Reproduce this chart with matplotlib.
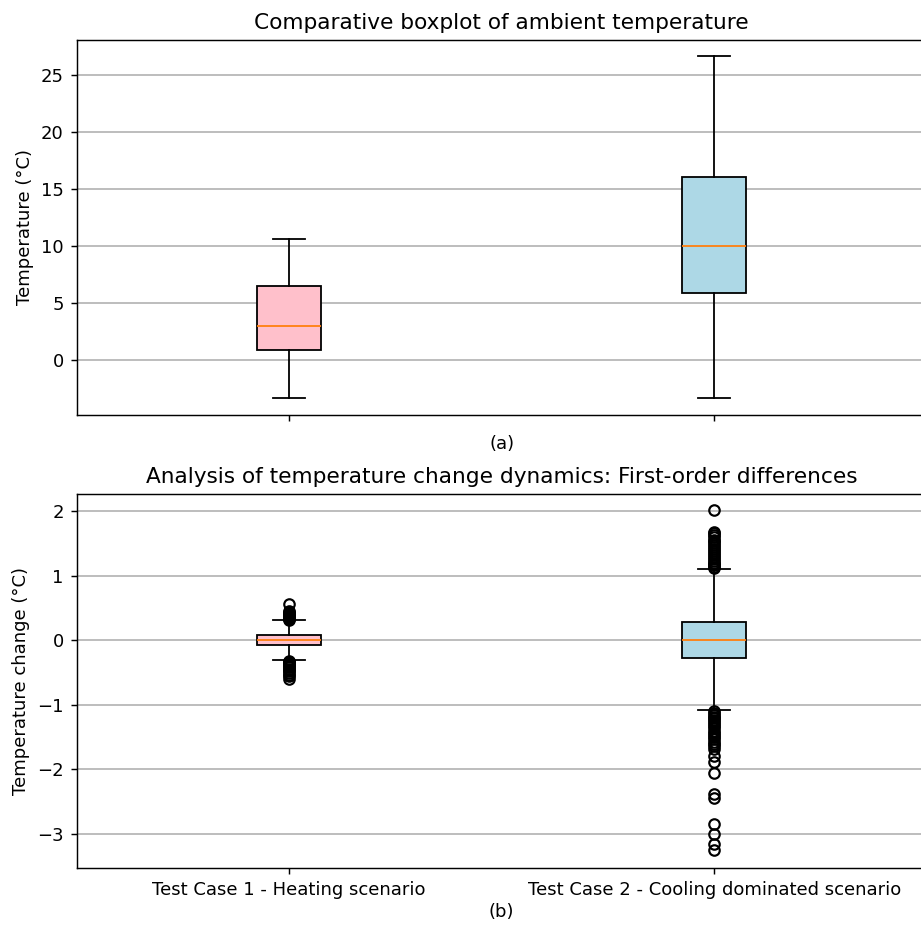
import matplotlib
matplotlib.use("Agg")
import matplotlib.pyplot as plt

# ---------------- data ----------------
categories = ["Test Case 1 - Heating scenario", "Test Case 2 - Cooling dominated scenario"]

# (a) ambient temperature box statistics
amb_whislo = [-3.35, -3.35]
amb_q1 = [0.85, 5.87]
amb_med = [2.97, 9.95]
amb_q3 = [6.43, 16.1]
amb_whishi = [10.62, 26.7]

# (b) first-order differences box statistics
diff_whislo = [-0.31, -1.08]
diff_q1 = [-0.08, -0.27]
diff_med = [0.0, 0.0]
diff_q3 = [0.08, 0.29]
diff_whishi = [0.31, 1.11]

diff_fliers_case1 = [0.32, 0.33, 0.34, 0.35, 0.36, 0.37, 0.38, 0.39, 0.40, 0.41,
                     0.42, 0.44, 0.46, 0.56,
                     -0.32, -0.33, -0.34, -0.35, -0.36, -0.37, -0.38, -0.40,
                     -0.42, -0.44, -0.46, -0.48, -0.50, -0.53, -0.56, -0.60]
diff_fliers_case2 = [1.12, 1.14, 1.16, 1.18, 1.20, 1.23, 1.26, 1.29, 1.32, 1.35,
                     1.38, 1.41, 1.44, 1.47, 1.50, 1.53, 1.56, 1.60, 1.63, 1.66,
                     1.68, 2.02,
                     -1.10, -1.12, -1.15, -1.18, -1.20, -1.23, -1.26, -1.30,
                     -1.33, -1.36, -1.40, -1.43, -1.46, -1.50, -1.53, -1.57,
                     -1.60, -1.64, -1.68, -1.79, -1.89, -2.06, -2.38, -2.44,
                     -2.84, -3.00, -3.15, -3.25]

box_colors = ["pink", "lightblue"]

# ---------------- figure ----------------
DPI = 130
W, H = 921, 926
fig = plt.figure(figsize=(W / DPI, H / DPI), dpi=DPI)

left = 76.5 / W
width = 850.5 / W
ax1 = fig.add_axes([left, 1 - 414.7 / H, width, 375.2 / H])
ax2 = fig.add_axes([left, 1 - 868.3 / H, width, 374.6 / H])


def make_stats(whislo, q1, med, q3, whishi, fliers):
    stats = []
    for i in range(len(q1)):
        stats.append(dict(whislo=whislo[i], q1=q1[i], med=med[i], q3=q3[i],
                          whishi=whishi[i], fliers=fliers[i]))
    return stats


stats_a = make_stats(amb_whislo, amb_q1, amb_med, amb_q3, amb_whishi, [[], []])
stats_b = make_stats(diff_whislo, diff_q1, diff_med, diff_q3, diff_whishi,
                     [diff_fliers_case1, diff_fliers_case2])

for ax, stats in ((ax1, stats_a), (ax2, stats_b)):
    bp = ax.bxp(stats, patch_artist=True, showfliers=True,
                flierprops=dict(marker="o", markerfacecolor="none",
                                markeredgecolor="black", markersize=5.8,
                                markeredgewidth=1.2))
    for patch, c in zip(bp["boxes"], box_colors):
        patch.set_facecolor(c)
        patch.set_edgecolor("black")
    ax.yaxis.grid(True, color="#b0b0b0", linewidth=0.9)
    ax.set_xlim(0.5, 2.5)

ax1.set_xticks([1, 2])
ax1.set_xticklabels(["", ""])
ax1.set_yticks([0, 5, 10, 15, 20, 25])
ax1.set_ylim(-4.85, 28.15)
ax1.set_title("Comparative boxplot of ambient temperature")
ax1.set_ylabel("Temperature (°C)")
ax1.set_xlabel("(a)", fontsize=10)

ax2.set_xticks([1, 2])
ax2.set_xticklabels(categories)
ax2.set_yticks([-3, -2, -1, 0, 1, 2])
ax2.set_ylim(-3.53, 2.27)
ax2.set_title("Analysis of temperature change dynamics: First-order differences")
ax2.set_ylabel("Temperature change (°C)")
ax2.set_xlabel("(b)", fontsize=10, labelpad=2)

fig.savefig("out.png", dpi=DPI)
